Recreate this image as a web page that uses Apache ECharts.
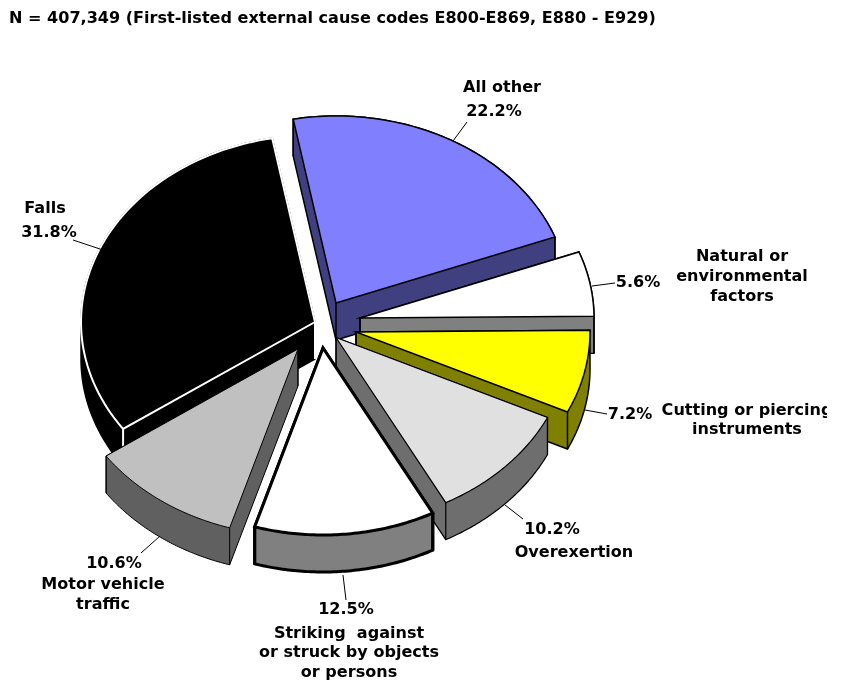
<!DOCTYPE html>
<html>
<head>
<meta charset="utf-8">
<style>html,body{margin:0;padding:0;background:#fff}#c{width:841px;height:681px}</style>
<script src="https://cdn.jsdelivr.net/npm/echarts@6/dist/echarts.min.js"></script>
</head>
<body>
<div id="c"></div>
<script>
// ---- data, clockwise ----
const categories = ['Falls','All other','Natural or environmental factors','Cutting or piercing instruments','Overexertion','Striking against or struck by objects or persons','Motor vehicle traffic'];
const percentValues = [31.8,22.2,5.6,7.2,10.2,12.5,10.6];
const labelLines = [['Falls'],['All other'],['Natural or','environmental','factors'],['Cutting or piercing','instruments'],['Overexertion'],['Striking  against','or struck by objects','or persons'],['Motor vehicle','traffic']];
const titleText = 'N = 407,349 (First-listed external cause codes E800-E869, E880 - E929)';

// ---- projection and look ----
const pie = {cx:325, cy:325, rx:234, ry:187, depth:37, firstAngle:-124.9};
const FONT = '"DejaVu Sans", Verdana, sans-serif';
const FS = 15, SX = 1.07;
const looks = [
 {dx:-10,dy:-3, top:'#000000', wall:'#000000', stroke:'#ffffff', wallStroke:'#000000', edge:'#ffffff', lw:2},
 {dx:11,dy:-22, top:'#8080ff', wall:'#404080', stroke:'#000000', wallStroke:'#000000', edge:'#000000', lw:1.5},
 {dx:35,dy:-7,  top:'#ffffff', wall:'#808080', stroke:'#000000', wallStroke:'#000000', edge:'#000000', lw:1.5},
 {dx:31,dy:7,   top:'#ffff00', wall:'#808000', stroke:'#000000', wallStroke:'#000000', edge:'#000000', lw:1.5},
 {dx:11,dy:12.5,top:'#e0e0e0', wall:'#6e6e6e', stroke:'#000000', wallStroke:'#000000', edge:'#000000', lw:1.2},
 {dx:-2,dy:23,  top:'#ffffff', wall:'#808080', stroke:'#000000', wallStroke:'#000000', edge:'#000000', lw:3},
 {dx:-27,dy:24, top:'#c0c0c0', wall:'#606060', stroke:'#000000', wallStroke:'#000000', edge:'#000000', lw:1}
];
// label placement: percent centre, leader from/to, name block centre x, first line y, line step
const labelPlaces = [
 {p:[49,233], l:[[103,250],[73,240]], n:[45,209], step:20},
 {p:[494,112], l:[[453,141],[467,122]], n:[502,88], step:20},
 {p:[638,283], l:[[592,286],[615,283]], n:[742,257], step:20},
 {p:[630,415], l:[[585,410],[607,414]], n:[747,411], step:19, clipRight:827},
 {p:[552,530], l:[[505,505],[523,519]], n:[574,553], step:20},
 {p:[346,610], l:[[343,575],[346,600]], n:[349,634], step:19.5},
 {p:[114,564], l:[[160,536],[141,553]], n:[103,585], step:20}
];

function hull(pts){
  const s = pts.slice().sort((a,b)=>a[0]-b[0]||a[1]-b[1]);
  const cross=(o,a,b)=>(a[0]-o[0])*(b[1]-o[1])-(a[1]-o[1])*(b[0]-o[0]);
  const lo=[],up=[];
  for(const p of s){while(lo.length>1&&cross(lo[lo.length-2],lo[lo.length-1],p)<=0)lo.pop();lo.push(p);}
  for(const p of s.slice().reverse()){while(up.length>1&&cross(up[up.length-2],up[up.length-1],p)<=0)up.pop();up.push(p);}
  lo.pop();up.pop();return lo.concat(up);
}
function inside(pt,poly){
  let c=false;
  for(let i=0,j=poly.length-1;i<poly.length;j=i++){
    const a=poly[i],b=poly[j];
    if((a[1]>pt[1])!==(b[1]>pt[1])&&pt[0]<(b[0]-a[0])*(pt[1]-a[1])/(b[1]-a[1])+a[0])c=!c;
  }
  return c;
}
const total = percentValues.reduce((a,b)=>a+b,0);
const starts=[]; percentValues.reduce((acc,v,i)=>{starts[i]=acc;return acc+v;},0);

function renderSlice(params, api){
  const i = params.dataIndex, v = api.value(0);
  const look = looks[i], place = labelPlaces[i];
  const a0 = (pie.firstAngle + starts[i]/total*360)*Math.PI/180;
  const a1 = a0 + v/total*2*Math.PI;
  const ox = pie.cx+look.dx, oy = pie.cy+look.dy;
  const top=[[ox,oy]];
  const N=64;
  for(let k=0;k<=N;k++){
    const a=a0+(a1-a0)*k/N;
    top.push([ox+pie.rx*Math.sin(a), oy-pie.ry*Math.cos(a)]);
  }
  const bottom=top.map(p=>[p[0],p[1]+pie.depth]);
  const children=[];
  children.push({type:'polygon',shape:{points:hull(top.concat(bottom))},
    style:{fill:look.wall,stroke:look.wallStroke,lineWidth:Math.min(look.lw,1.5)+(look.lw>2?1.5:0),lineJoin:'miter'}});
  // vertical edges that are not hidden by the slice's own top
  [top[0],top[1],top[N+1]].forEach(p=>{
    if(!inside([p[0],p[1]+2],top)){
      children.push({type:'line',shape:{x1:p[0],y1:p[1],x2:p[0],y2:p[1]+pie.depth},
        style:{stroke:look.edge,lineWidth:look.lw}});
    }
  });
  children.push({type:'polygon',shape:{points:top},
    style:{fill:look.top,stroke:look.stroke,lineWidth:look.lw,lineJoin:'miter'}});
  // leader
  children.push({type:'line',shape:{x1:place.l[0][0],y1:place.l[0][1],x2:place.l[1][0],y2:place.l[1][1]},
    style:{stroke:'#000',lineWidth:1}});
  const txt=(s,x,y)=>{
    const el={type:'text',x:x,y:y,scaleX:SX,style:{text:s,font:'bold '+FS+'px '+FONT,fill:'#000',align:'center',verticalAlign:'middle'}};
    if(place.clipRight){el.clipPath={type:'rect',shape:{x:-200,y:-20,width:200+(place.clipRight-x)/SX,height:40}};}
    return el;
  };
  children.push(txt(v.toFixed(1)+'%',place.p[0],place.p[1]));
  labelLines[i].forEach((s,k)=>children.push(txt(s,place.n[0],place.n[1]+k*place.step)));
  return {type:'group',children};
}

const chart = echarts.init(document.getElementById('c'),null,{renderer:'canvas'});
chart.setOption({
  backgroundColor:'#fff',
  animation:false,
  graphic:[{type:'text',x:9,y:19,scaleX:SX,silent:true,
    style:{text:titleText,font:'bold '+FS+'px '+FONT,fill:'#000',align:'left',verticalAlign:'middle'}}],
  tooltip:{show:false},
  series:[{type:'custom',coordinateSystem:'none',silent:true,clip:false,
    renderItem:renderSlice,
    data:percentValues.map((v,i)=>({name:categories[i],value:[v]}))}]
});
</script>
</body>
</html>
